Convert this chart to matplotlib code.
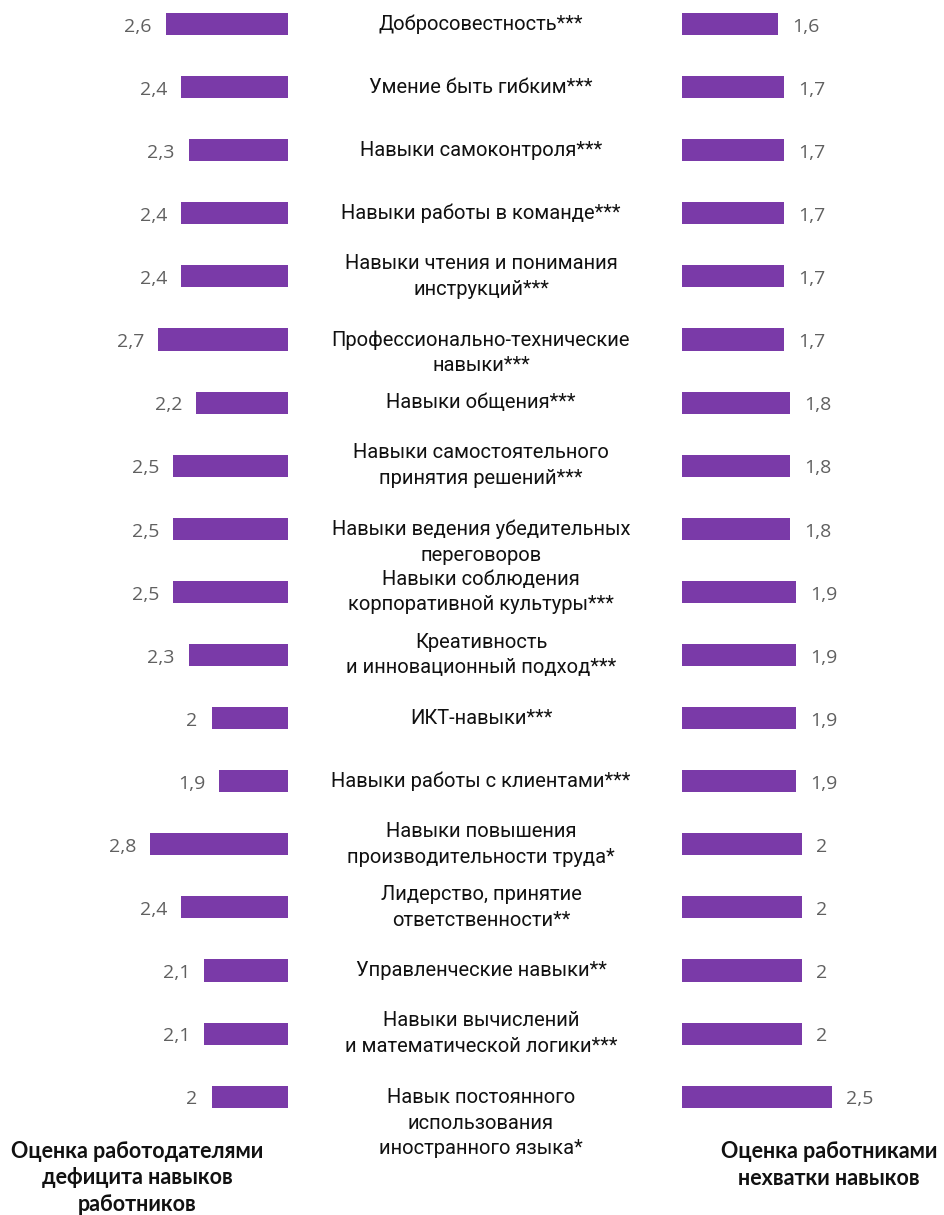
import matplotlib
matplotlib.use("Agg")
import matplotlib.pyplot as plt
import matplotlib.transforms as mtransforms

skills = [
    "Добросовестность***",
    "Умение быть гибким***",
    "Навыки самоконтроля***",
    "Навыки работы в команде***",
    "Навыки чтения и понимания\nинструкций***",
    "Профессионально-технические\nнавыки***",
    "Навыки общения***",
    "Навыки самостоятельного\nпринятия решений***",
    "Навыки ведения убедительных\nпереговоров",
    "Навыки соблюдения\nкорпоративной культуры***",
    "Креативность\nи инновационный подход***",
    "ИКТ-навыки***",
    "Навыки работы с клиентами***",
    "Навыки повышения\nпроизводительности труда*",
    "Лидерство, принятие\nответственности**",
    "Управленческие навыки**",
    "Навыки вычислений\nи математической логики***",
    "Навык постоянного\nиспользования\nиностранного языка*",
]
employers = [2.6, 2.4, 2.3, 2.4, 2.4, 2.7, 2.2, 2.5, 2.5, 2.5, 2.3, 2.0, 1.9, 2.8, 2.4, 2.1, 2.1, 2.0]
workers = [1.6, 1.7, 1.7, 1.7, 1.7, 1.7, 1.8, 1.8, 1.8, 1.9, 1.9, 1.9, 1.9, 2.0, 2.0, 2.0, 2.0, 2.5]

title_left = "Оценка работодателями\nдефицита навыков\nработников"
title_right = "Оценка работниками\nнехватки навыков"

# labels whose first line sits level with the bars
top_aligned = {5, 8, 17}

BAR = "#7A3AA8"
GREY = "#606060"
W, H = 945, 1215

fig = plt.figure(figsize=(W / 100, H / 100), dpi=100)

row0, step = 24, 63.1
ylim = ((H - row0) / step, -row0 / step)

ax_l = fig.add_axes([0, 0, 288 / W, 1])
ax_l.set_xlim(1 + 288 / 76.5, 1)
ax_r = fig.add_axes([682 / W, 0, (W - 682) / W, 1])
ax_r.set_xlim(0, (W - 682) / 60)
for ax in (ax_l, ax_r):
    ax.set_ylim(*ylim)
    ax.axis("off")

rows = list(range(len(skills)))
ax_l.barh(rows, employers, height=0.35, color=BAR)
ax_r.barh(rows, workers, height=0.35, color=BAR)


def fmt(v):
    return f"{v:g}".replace(".", ",")


for i, v in enumerate(employers):
    ax_l.annotate(fmt(v), (v, i), xytext=(-10, -2), textcoords="offset points",
                  ha="right", va="center", fontsize=14, color=GREY,
                  family="Open Sans")
for i, v in enumerate(workers):
    ax_r.annotate(fmt(v), (v, i), xytext=(10, -2), textcoords="offset points",
                  ha="left", va="center", fontsize=14, color=GREY,
                  family="Open Sans")

trans = mtransforms.blended_transform_factory(fig.transFigure, ax_l.transData)
for i, name in enumerate(skills):
    n = name.count("\n")
    shift = -9.5 * n if i in top_aligned else 0
    ax_l.annotate(name, (481 / W, i), xycoords=trans, xytext=(0, shift),
                  textcoords="offset points", ha="center", va="center",
                  fontsize=14.5, family="Roboto", color="#111111",
                  linespacing=1.45, annotation_clip=False)

fig.text(137 / W, 1 - 1178 / H, title_left, ha="center", va="center",
         fontsize=15.5, family="Lato", weight="bold", color="#111111",
         linespacing=1.3)
fig.text(829 / W, 1 - 1165 / H, title_right, ha="center", va="center",
         fontsize=15.5, family="Lato", weight="bold", color="#111111",
         linespacing=1.3)

fig.savefig("out.png", dpi=100)
